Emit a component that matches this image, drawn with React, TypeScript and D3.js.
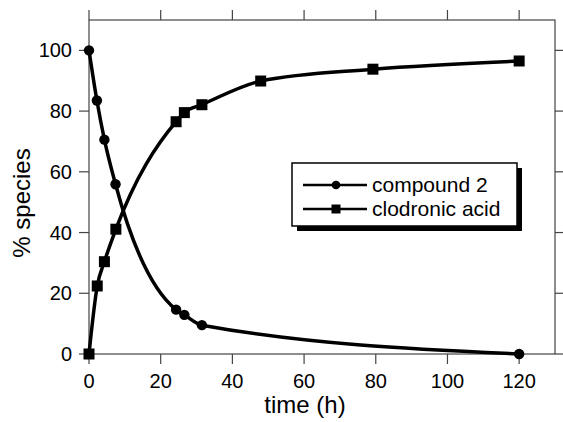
import React, { useRef, useEffect } from "react";
import * as d3 from "d3";

// values
const compoundTime = [0, 2.2, 4.3, 7.4, 24.3, 26.6, 31.5, 120];
const compoundPct = [100, 83.5, 70.6, 55.9, 14.6, 12.9, 9.5, 0];
const acidTime = [0, 2.3, 4.3, 7.5, 24.3, 26.6, 31.5, 47.9, 79.2, 120];
const acidPct = [0, 22.4, 30.4, 41.1, 76.5, 79.5, 82.1, 89.9, 93.8, 96.5];
const xTicks = [0, 20, 40, 60, 80, 100, 120];
const yTicks = [0, 20, 40, 60, 80, 100];
const seriesNames = ["compound 2", "clodronic acid"];

const FONT = "'Liberation Sans', Arial, Helvetica, sans-serif";

export default function App() {
  const ref = useRef<SVGSVGElement>(null);

  useEffect(() => {
    const width = 563, height = 422;
    const left = 89, right = 555, top = 20, bottom = 354;

    const svg = d3.select(ref.current);
    svg.selectAll("*").remove();
    svg.attr("width", width).attr("height", height);

    const x = d3.scaleLinear().domain([0, 130]).range([left, right]);
    const y = d3.scaleLinear().domain([0, 110]).range([bottom, top]);

    // frame
    svg.append("rect")
      .attr("x", left).attr("y", top)
      .attr("width", right - left).attr("height", bottom - top)
      .attr("fill", "none").attr("stroke", "#444").attr("stroke-width", 1.2);

    const tickLen = 10;
    const tickStroke = "#444";

    // bottom + top ticks
    xTicks.forEach(t => {
      svg.append("line")
        .attr("x1", x(t)).attr("x2", x(t))
        .attr("y1", bottom).attr("y2", bottom + tickLen)
        .attr("stroke", tickStroke).attr("stroke-width", 1.2);
      svg.append("line")
        .attr("x1", x(t)).attr("x2", x(t))
        .attr("y1", top).attr("y2", top - tickLen)
        .attr("stroke", tickStroke).attr("stroke-width", 1.2);
      svg.append("text")
        .attr("x", x(t)).attr("y", bottom + 34)
        .attr("text-anchor", "middle")
        .style("font-family", FONT).style("font-size", "20px")
        .text(t);
    });

    // left + right ticks
    yTicks.forEach(t => {
      svg.append("line")
        .attr("x1", left - tickLen).attr("x2", left)
        .attr("y1", y(t)).attr("y2", y(t))
        .attr("stroke", tickStroke).attr("stroke-width", 1.2);
      svg.append("line")
        .attr("x1", right).attr("x2", right + tickLen)
        .attr("y1", y(t)).attr("y2", y(t))
        .attr("stroke", tickStroke).attr("stroke-width", 1.2);
      svg.append("text")
        .attr("x", left - 17).attr("y", y(t))
        .attr("dy", "0.35em")
        .attr("text-anchor", "end")
        .style("font-family", FONT).style("font-size", "20px")
        .text(t);
    });

    // axis titles
    svg.append("text")
      .attr("x", (left + right) / 2 - 17).attr("y", 413)
      .attr("text-anchor", "middle")
      .style("font-family", FONT).style("font-size", "24px")
      .text("time (h)");
    svg.append("text")
      .attr("transform", `translate(30,${(top + bottom) / 2 + 16}) rotate(-90)`)
      .attr("text-anchor", "middle")
      .style("font-family", FONT).style("font-size", "24px")
      .text("% species");

    const line = d3.line<[number, number]>()
      .x(d => x(d[0])).y(d => y(d[1]))
      .curve(d3.curveMonotoneX);

    const compound = compoundTime.map((t, i) => [t, compoundPct[i]] as [number, number]);
    const acid = acidTime.map((t, i) => [t, acidPct[i]] as [number, number]);

    [compound, acid].forEach(pts => {
      svg.append("path")
        .attr("d", line(pts))
        .attr("fill", "none").attr("stroke", "#000")
        .attr("stroke-width", 3.5).attr("stroke-linejoin", "round");
    });

    svg.selectAll("circle.pt").data(compound).enter()
      .append("circle").attr("class", "pt")
      .attr("cx", d => x(d[0])).attr("cy", d => y(d[1]))
      .attr("r", 5.2).attr("fill", "#000");

    svg.selectAll("rect.pt").data(acid).enter()
      .append("rect").attr("class", "pt")
      .attr("x", d => x(d[0]) - 5.5).attr("y", d => y(d[1]) - 5.5)
      .attr("width", 11).attr("height", 11).attr("fill", "#000");

    // legend
    const lx = 292, ly = 163, lw = 225, lh = 63;
    svg.append("rect")
      .attr("x", lx + 5).attr("y", ly + 5).attr("width", lw).attr("height", lh)
      .attr("fill", "#000");
    svg.append("rect")
      .attr("x", lx).attr("y", ly).attr("width", lw).attr("height", lh)
      .attr("fill", "#fff").attr("stroke", "#000").attr("stroke-width", 1.5);

    seriesNames.forEach((name, i) => {
      const ry = 185 + i * 24;
      svg.append("line")
        .attr("x1", 303).attr("x2", 367).attr("y1", ry).attr("y2", ry)
        .attr("stroke", "#000").attr("stroke-width", 2.5);
      if (i === 0) {
        svg.append("circle").attr("cx", 336).attr("cy", ry).attr("r", 4.3).attr("fill", "#000");
      } else {
        svg.append("rect").attr("x", 331.5).attr("y", ry - 4.5).attr("width", 9).attr("height", 9).attr("fill", "#000");
      }
      svg.append("text")
        .attr("x", 372).attr("y", ry + 7)
        .style("font-family", FONT).style("font-size", "21px")
        .text(name);
    });
  }, []);

  return (
    <svg ref={ref} style={{ position: "absolute", left: 0, top: 0, background: "#fff" }}></svg>
  );
}
